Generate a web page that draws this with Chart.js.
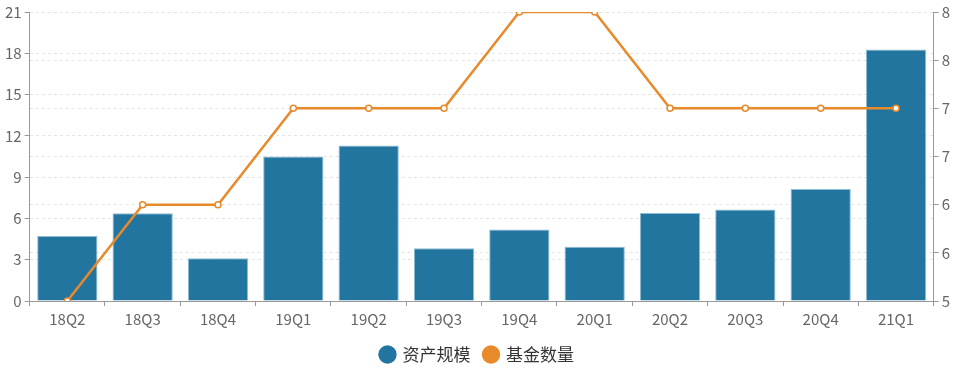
<!DOCTYPE html>
<html>
<head>
<meta charset="utf-8">
<script src="https://cdn.jsdelivr.net/npm/chart.js@4/dist/chart.umd.min.js"></script>
<style>
    html, body { margin: 0; padding: 0; background: #fff; }
    #wrap { width: 974px; height: 373px; }
</style>
</head>
<body>
<div id="wrap"><canvas id="fundChart"></canvas></div>
<script>
// 季度
const quarters = ['18Q2', '18Q3', '18Q4', '19Q1', '19Q2', '19Q3', '19Q4', '20Q1', '20Q2', '20Q3', '20Q4', '21Q1'];
// 资产规模
const assetSize = [4.72, 6.37, 3.11, 10.5, 11.3, 3.84, 5.2, 3.94, 6.39, 6.64, 8.14, 18.28];
// 基金数量
const fundCount = [5, 6, 6, 7, 7, 7, 8, 8, 7, 7, 7, 7];

const font = '"Noto Sans CJK SC", "Noto Sans", sans-serif';
const gridColor = '#e3e3e3';
const axisColor = '#999';

var ctx = document.getElementById('fundChart').getContext('2d');
new Chart(ctx, {
    data: {
        labels: quarters,
        datasets: [
            {
                type: 'bar',
                label: '资产规模',
                data: assetSize,
                yAxisID: 'y',
                backgroundColor: '#22759f',
                borderColor: '#8fbcd4',
                borderWidth: 1,
                categoryPercentage: 1,
                barPercentage: 0.8,
                order: 2
            },
            {
                type: 'line',
                label: '基金数量',
                data: fundCount,
                yAxisID: 'y1',
                borderColor: '#e8892a',
                backgroundColor: '#e8892a',
                borderWidth: 2.5,
                pointRadius: 3,
                pointBorderWidth: 1.5,
                pointBackgroundColor: '#fff',
                pointBorderColor: '#e8892a',
                tension: 0,
                order: 1
            }
        ]
    },
    options: {
        responsive: true,
        maintainAspectRatio: false,
        animation: false,
        layout: { padding: { left: 2, right: 21, top: 5, bottom: 0 } },
        plugins: {
            tooltip: { enabled: false },
            legend: {
                position: 'bottom',
                labels: {
                    usePointStyle: true,
                    pointStyle: 'circle',
                    boxWidth: 13,
                    boxHeight: 13,
                    padding: 14,
                    color: '#333',
                    font: { family: font, size: 17 },
                    generateLabels: function(chart) {
                        return chart.data.datasets.map((ds, i) => ({
                            text: ds.label,
                            fillStyle: ds.type === 'bar' ? ds.backgroundColor : ds.borderColor,
                            strokeStyle: ds.type === 'bar' ? ds.backgroundColor : ds.borderColor,
                            lineWidth: 0,
                            pointStyle: 'circle',
                            datasetIndex: i,
                            fontColor: '#333'
                        }));
                    }
                }
            }
        },
        scales: {
            x: {
                grid: {
                    drawOnChartArea: false,
                    tickLength: 5,
                    tickColor: axisColor,
                    offset: true
                },
                border: { color: axisColor },
                ticks: { color: '#666', font: { family: font, size: 15 }, padding: 4 }
            },
            y: {
                position: 'left',
                min: 0,
                max: 21,
                ticks: {
                    stepSize: 3,
                    color: '#666',
                    font: { family: font, size: 15 },
                    padding: 3
                },
                grid: {
                    color: gridColor,
                    borderDash: [3, 3],
                    tickColor: axisColor,
                    tickBorderDash: [],
                    tickLength: 5
                },
                border: { color: axisColor, dash: [3, 3] }
            },
            y1: {
                position: 'right',
                min: 5,
                max: 8,
                ticks: {
                    stepSize: 0.5,
                    color: '#666',
                    font: { family: font, size: 15 },
                    padding: 3,
                    callback: function(value) { return Math.round(value); }
                },
                grid: {
                    color: gridColor,
                    tickColor: axisColor,
                    tickBorderDash: [],
                    tickLength: 5
                },
                border: { color: axisColor, dash: [3, 3] }
            }
        }
    }
});
</script>
</body>
</html>
